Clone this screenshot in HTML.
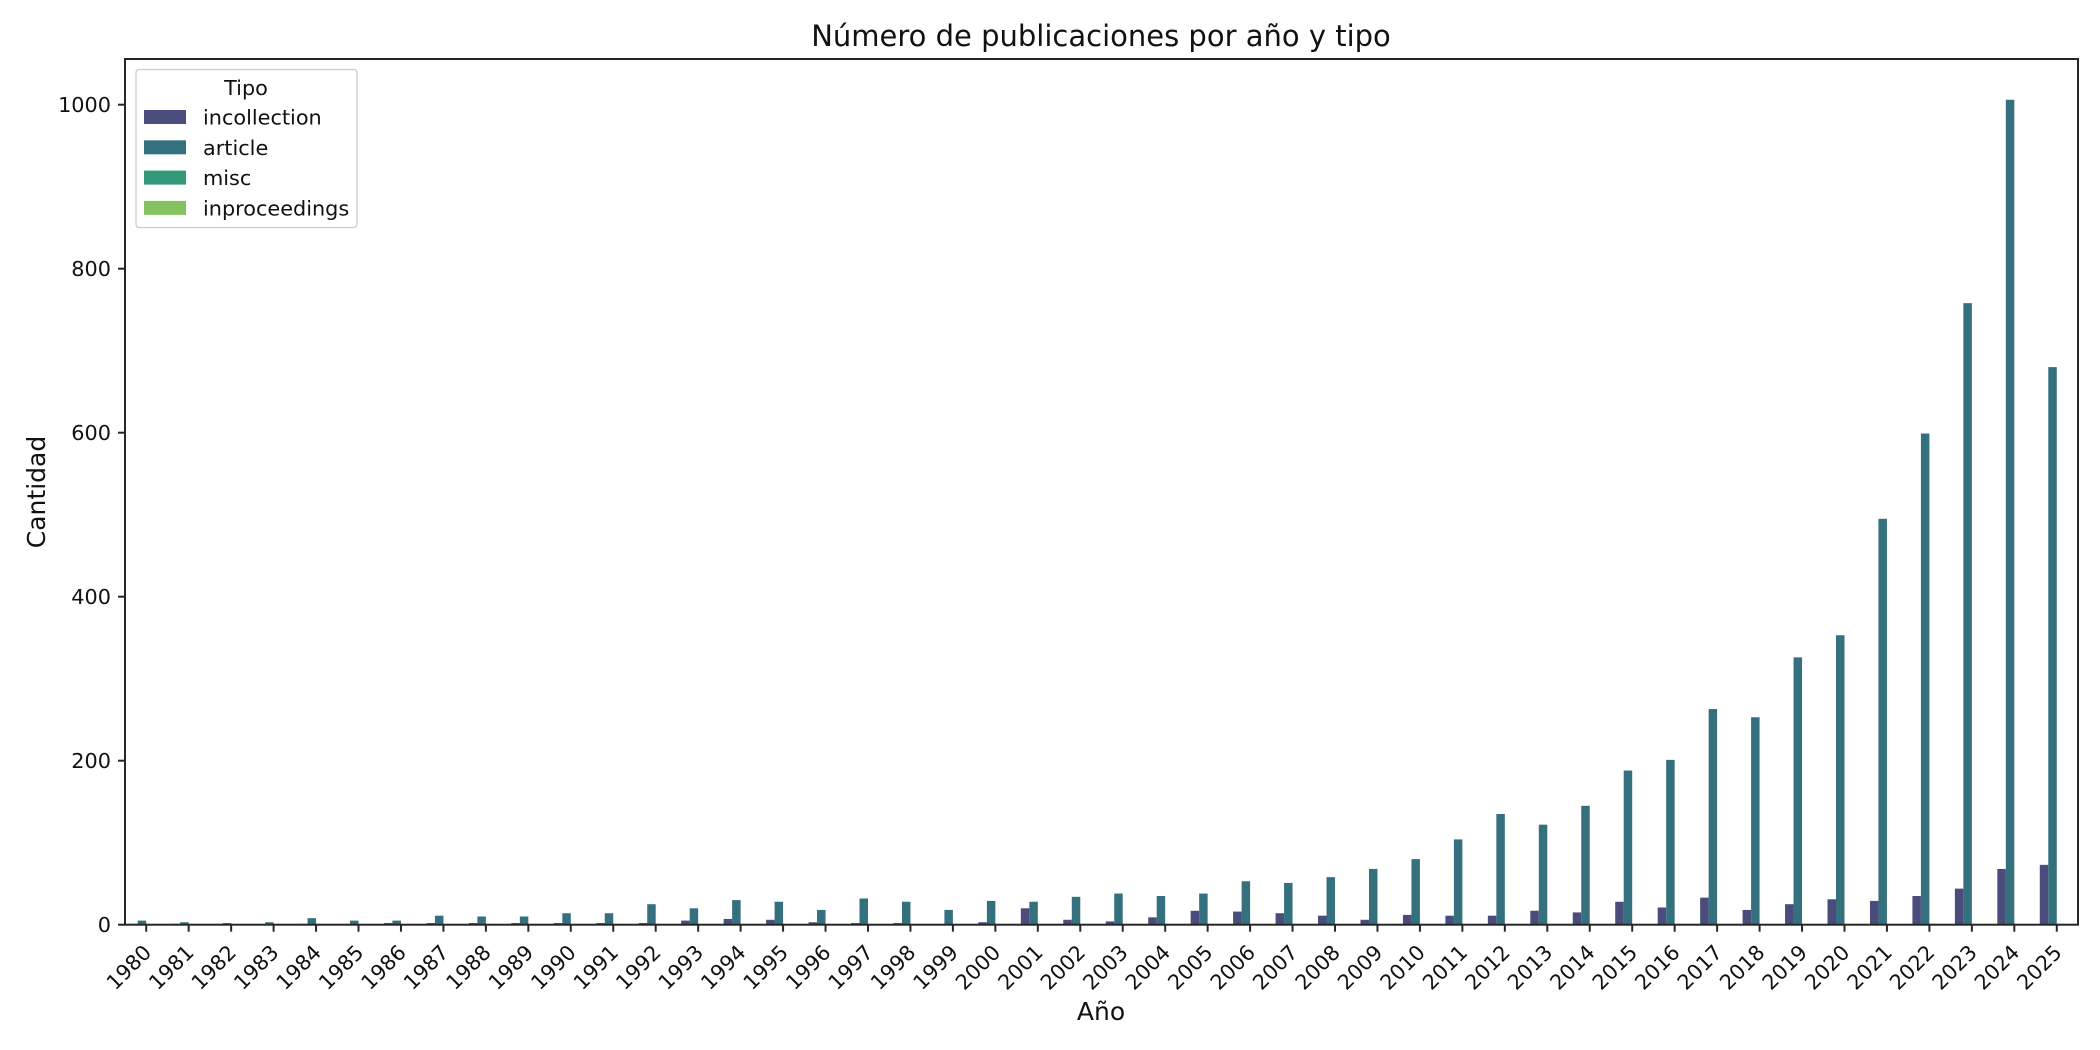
<!DOCTYPE html>
<html><head><meta charset="utf-8"><style>
html,body{margin:0;padding:0;background:#fff;}
svg{display:block;font-family:"DejaVu Sans","Liberation Sans",sans-serif;}
</style></head><body>
<svg id="chart" width="2100" height="1050" viewBox="0 0 2100 1050" xmlns="http://www.w3.org/2000/svg">
<rect width="2100" height="1050" fill="#fff"/>
<text x="1101" y="46" font-size="29" text-anchor="middle" fill="#111">Número de publicaciones por año y tipo</text>
<g id="bars"></g>
<g id="yticks"></g>
<g id="xticks"></g>
<rect x="125" y="59" width="1953" height="865.7" fill="none" stroke="#262626" stroke-width="2"/>
<text x="1101" y="1020" font-size="25" text-anchor="middle" fill="#111">Año</text>
<text transform="translate(45,492) rotate(-90)" font-size="25" text-anchor="middle" fill="#111">Cantidad</text>
<g>
<rect x="136" y="69.5" width="221" height="158" rx="3" fill="#fff" fill-opacity="0.8" stroke="#cccccc" stroke-width="1.3"/>
<text x="246" y="95" font-size="20.8" text-anchor="middle" fill="#111">Tipo</text>
<g id="legend-entries"></g>
</g>
</svg>
<script>
const years = [];
for (let y = 1980; y <= 2025; y++) years.push(String(y));
const seriesNames = ["incollection","article","misc","inproceedings"];
const colors = ["#4a4c7c","#35707f","#329a7a","#84c262"];
const incollection = [1,1,0,0,1,0,2,2,2,2,2,2,2,5,7,6,3,2,2,0,3,20,6,4,9,17,16,14,11,6,12,11,11,17,15,28,21,33,18,25,31,29,35,44,68,73];
const article = [5,3,2,3,8,5,5,11,10,10,14,14,25,20,30,28,18,32,28,18,29,28,34,38,35,38,53,51,58,68,80,104,135,122,145,188,201,263,253,326,353,495,599,758,1006,680];
const misc = [0,0,0,0,0,0,0,0,0,0,0,0,0,0,0,0,0,0,0,0,0,0,0,0,0,0,0,0,0,0,0,0,0,0,0,0,0,0,0,0,0,0,1,0,0,1];
const inproceedings = [0,0,0,0,0,0,0,0,0,0,0,0,0,0,0,0,0,0,0,0,0,0,0,0,0,0,0,0,0,0,0,0,0,0,0,0,0,0,0,0,0,0,0,0,0,0];
const yTicks = [0,200,400,600,800,1000];

const NS = "http://www.w3.org/2000/svg";
const L = 125, R = 2078, T = 59, B = 924.7;
const step = (R - L) / years.length;
const xPos = i => L + (i + 0.5) * step;
const yPos = v => B - v * 0.82;
const series = [incollection, article, misc, inproceedings];
const offs = [-0.3, -0.1, 0.1, 0.3];
const bw = 0.2 * step;

const bars = document.getElementById("bars");
series.forEach((s, k) => {
  s.forEach((v, i) => {
    if (v <= 0) return;
    const r = document.createElementNS(NS, "rect");
    const cx = xPos(i) + offs[k] * step;
    r.setAttribute("x", cx - bw / 2);
    r.setAttribute("y", yPos(v));
    r.setAttribute("width", bw);
    r.setAttribute("height", B - yPos(v));
    r.setAttribute("fill", colors[k]);
    
    
    bars.appendChild(r);
  });
});

const yg = document.getElementById("yticks");
yTicks.forEach(t => {
  const y = yPos(t);
  const ln = document.createElementNS(NS, "line");
  ln.setAttribute("x1", L - 7); ln.setAttribute("x2", L);
  ln.setAttribute("y1", y); ln.setAttribute("y2", y);
  ln.setAttribute("stroke", "#262626"); ln.setAttribute("stroke-width", "2");
  
  
  yg.appendChild(ln);
  const tx = document.createElementNS(NS, "text");
  tx.setAttribute("x", L - 14); tx.setAttribute("y", y + 7.5);
  tx.setAttribute("text-anchor", "end"); tx.setAttribute("font-size", "20.8");
  tx.setAttribute("fill", "#111");
  tx.textContent = String(t);
  
  
  yg.appendChild(tx);
});

const xg = document.getElementById("xticks");
years.forEach((yr, i) => {
  const x = xPos(i);
  const ln = document.createElementNS(NS, "line");
  ln.setAttribute("x1", x); ln.setAttribute("x2", x);
  ln.setAttribute("y1", B); ln.setAttribute("y2", B + 7);
  ln.setAttribute("stroke", "#262626"); ln.setAttribute("stroke-width", "2");
  
  
  xg.appendChild(ln);
  const tx = document.createElementNS(NS, "text");
  tx.setAttribute("transform", "translate(" + (x + 6.4) + "," + (B + 29) + ") rotate(-45)");
  tx.setAttribute("text-anchor", "end"); tx.setAttribute("font-size", "20.8");
  tx.setAttribute("fill", "#111");
  tx.textContent = yr;
  
  
  xg.appendChild(tx);
});

const lg = document.getElementById("legend-entries");
seriesNames.forEach((n, k) => {
  const y = 110 + k * 30.3;
  const r = document.createElementNS(NS, "rect");
  r.setAttribute("x", 144); r.setAttribute("y", y);
  r.setAttribute("width", 42); r.setAttribute("height", 14);
  r.setAttribute("fill", colors[k]);
  
  
  lg.appendChild(r);
  const tx = document.createElementNS(NS, "text");
  tx.setAttribute("x", 203); tx.setAttribute("y", y + 14.5);
  tx.setAttribute("font-size", "20.8"); tx.setAttribute("fill", "#111");
  tx.textContent = n;
  
  
  lg.appendChild(tx);
});
</script>
</body></html>
